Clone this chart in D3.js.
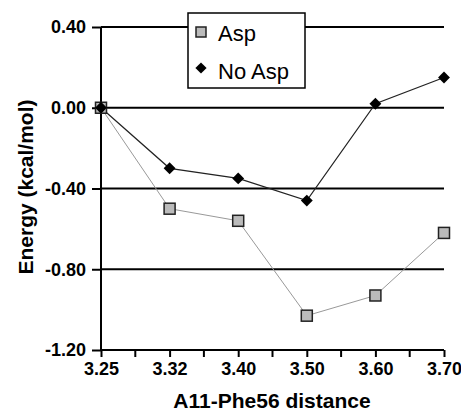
<!DOCTYPE html>
<meta charset="utf-8">
<style>
body { margin: 0; background: #fff; }
text { font-family: "Liberation Sans", Arial, sans-serif; }
.tick text { font-weight: bold; font-size: 18px; fill: #000; }
</style>
<svg width="461" height="411"></svg>
<script src="https://d3js.org/d3.v7.min.js"></script>
<script>

var distances = ["3.25", "3.32", "3.40", "3.50", "3.60", "3.70"];
var aspValues = [0.00, -0.50, -0.56, -1.03, -0.93, -0.62];
var noAspValues = [0.00, -0.30, -0.35, -0.46, 0.02, 0.15];
var yTicks = [0.40, 0.00, -0.40, -0.80, -1.20];

var svg = d3.select("svg"),
    margin = {top: 27, right: 17, bottom: 61, left: 101},
    width = +svg.attr("width") - margin.left - margin.right,
    height = +svg.attr("height") - margin.top - margin.bottom;

var x = d3.scalePoint().domain(distances).range([0, width]),
    y = d3.scaleLinear().domain([-1.2, 0.4]).range([height, 0]);

var g = svg.append("g")
    .attr("transform", "translate(" + margin.left + "," + margin.top + ")");

// gridlines
g.selectAll(".grid")
  .data(yTicks.filter(function(d) { return d > -1.2; }))
  .enter().append("line")
    .attr("x1", 0)
    .attr("x2", width)
    .attr("y1", function(d) { return y(d); })
    .attr("y2", function(d) { return y(d); })
    .attr("stroke", "#000")
    .attr("stroke-width", 2);

// y axis
var yAxis = g.append("g")
    .call(d3.axisLeft(y).tickValues(yTicks)
      .tickFormat(function(d) { return d.toFixed(2); })
      .tickSize(9).tickPadding(6));
yAxis.select(".domain").attr("stroke-width", 2).attr("d", "M0," + height + "V0");
yAxis.selectAll(".tick line").attr("stroke-width", 2);

// x axis with minor ticks between categories
var step = x.step();
var minor = distances.slice(1).map(function(d) { return x(d) - step / 2; });
g.selectAll(".minor")
  .data(minor)
  .enter().append("line")
    .attr("x1", function(d) { return d; })
    .attr("x2", function(d) { return d; })
    .attr("y1", height)
    .attr("y2", height + 7)
    .attr("stroke", "#000")
    .attr("stroke-width", 2);

var xAxis = g.append("g")
    .attr("transform", "translate(0," + height + ")")
    .call(d3.axisBottom(x).tickSize(7).tickPadding(5));
xAxis.select(".domain").attr("stroke-width", 2).attr("d", "M0,0H" + width);
xAxis.selectAll(".tick line").attr("stroke-width", 2);

// axis titles
svg.append("text")
    .attr("transform", "translate(33,187) rotate(-90)")
    .attr("text-anchor", "middle")
    .attr("font-weight", "bold")
    .attr("font-size", 21)
    .text("Energy (kcal/mol)");

svg.append("text")
    .attr("x", 272)
    .attr("y", 408)
    .attr("text-anchor", "middle")
    .attr("font-weight", "bold")
    .attr("font-size", 21)
    .text("A11-Phe56 distance");

var line = d3.line()
    .x(function(d, i) { return x(distances[i]); })
    .y(function(d) { return y(d); });

// Asp series
g.append("path")
    .datum(aspValues)
    .attr("fill", "none")
    .attr("stroke", "#999")
    .attr("stroke-width", 1)
    .attr("d", line);

// No Asp series
g.append("path")
    .datum(noAspValues)
    .attr("fill", "none")
    .attr("stroke", "#222")
    .attr("stroke-width", 1.2)
    .attr("d", line);

var sq = 11;
g.selectAll(".asp")
  .data(aspValues)
  .enter().append("rect")
    .attr("x", function(d, i) { return x(distances[i]) - sq / 2; })
    .attr("y", function(d) { return y(d) - sq / 2; })
    .attr("width", sq)
    .attr("height", sq)
    .attr("fill", "#bbb")
    .attr("stroke", "#222")
    .attr("stroke-width", 1.5);

var diamond = d3.symbol().type(d3.symbolDiamond2).size(90);
g.selectAll(".noasp")
  .data(noAspValues)
  .enter().append("path")
    .attr("transform", function(d, i) { return "translate(" + x(distances[i]) + "," + y(d) + ")"; })
    .attr("d", diamond)
    .attr("fill", "#000");

// legend
var legend = svg.append("g").attr("transform", "translate(188,13)");
legend.append("rect")
    .attr("width", 117)
    .attr("height", 75)
    .attr("fill", "#fff")
    .attr("stroke", "#000")
    .attr("stroke-width", 1.5);
legend.append("rect")
    .attr("x", 8).attr("y", 14)
    .attr("width", 10).attr("height", 10)
    .attr("fill", "#bbb")
    .attr("stroke", "#222")
    .attr("stroke-width", 1.5);
legend.append("path")
    .attr("transform", "translate(13,55)")
    .attr("d", d3.symbol().type(d3.symbolDiamond2).size(80))
    .attr("fill", "#000");
legend.append("text")
    .attr("x", 30).attr("y", 28)
    .attr("font-size", 22)
    .text("Asp");
legend.append("text")
    .attr("x", 30).attr("y", 66)
    .attr("font-size", 22)
    .text("No Asp");

</script>
